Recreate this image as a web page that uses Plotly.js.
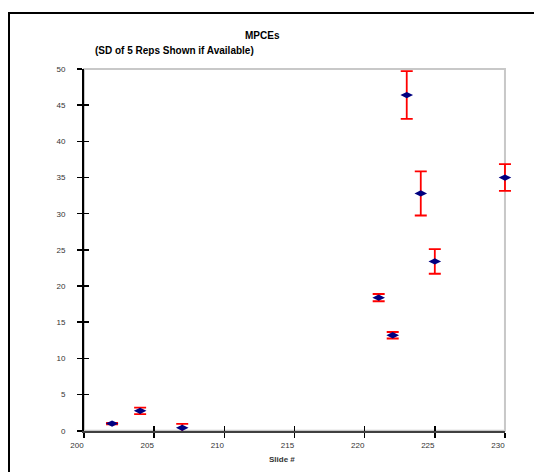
<!DOCTYPE html>
<html>
<head>
<meta charset="utf-8">
<script src="https://cdn.plot.ly/plotly-3.0.1.min.js"></script>
<style>
  html, body { margin: 0; padding: 0; background: #fff; }
  #wrap { position: relative; width: 534px; height: 472px; overflow: hidden; }
  #frame { position: absolute; left: 8px; top: 12px; width: 600px; height: 600px;
           border-left: 2px solid #000; border-top: 2px solid #000; box-sizing: border-box; }
  #chart { position: absolute; left: 0; top: 0; width: 534px; height: 472px; }
</style>
</head>
<body>
<div id="wrap">
  <div id="frame"></div>
  <div id="chart"></div>
</div>
<script>
// Data
const slideNumbers = [202, 204, 207, 221, 222, 223, 224, 225, 230];
const mpceValues   = [1.0, 2.75, 0.4, 18.4, 13.2, 46.4, 32.8, 23.4, 35.0];
const sdValues     = [0.1, 0.45, 0.55, 0.5, 0.45, 3.3, 3.05, 1.7, 1.85];
const xTickValues  = [200, 205, 210, 215, 220, 225, 230];
const yTickValues  = [0, 5, 10, 15, 20, 25, 30, 35, 40, 45, 50];
const titleText    = "MPCEs";
const subtitleText = "(SD of 5 Reps Shown if Available)";
const xTitleText   = "Slide #";

const FONT = "Liberation Sans, Arial, sans-serif";

// visible axis ranges and a slightly wider hidden data frame (so error caps at the edge are not cut)
const xRange = [200, 230];
const yRange = [0, 50];
const xDataRange = [200, 231];
const yDataRange = [-1, 50];
const xFrac = (xRange[1] - xRange[0]) / (xDataRange[1] - xDataRange[0]);
const yFrac = (yRange[1] - yRange[0]) / (yDataRange[1] - yDataRange[0]);

const trace = {
  type: "scatter",
  mode: "markers",
  x: slideNumbers,
  y: mpceValues,
  xaxis: "x", yaxis: "y",
  cliponaxis: false,
  marker: { symbol: "diamond-wide", size: 9, color: "#000080", line: { width: 0 } },
  error_y: { type: "data", array: sdValues, visible: true, color: "#ff0000", thickness: 1.8, width: 6 },
  showlegend: false,
  hoverinfo: "x+y"
};

const hiddenAxis = { visible: false, showgrid: false, zeroline: false, fixedrange: true };
const commonAxis = { showgrid: false, zeroline: false, fixedrange: true };

const layout = {
  width: 534,
  height: 472,
  margin: { l: 84, r: 15, t: 69, b: 34 },
  paper_bgcolor: "rgba(0,0,0,0)",
  plot_bgcolor: "rgba(0,0,0,0)",
  font: { family: FONT, size: 8, color: "#333" },
  xaxis: Object.assign({}, hiddenAxis, { domain: [0, 1], range: xDataRange, anchor: "y" }),
  yaxis: Object.assign({}, hiddenAxis, { domain: [0, 1], range: yDataRange, anchor: "x" }),
  xaxis2: Object.assign({}, commonAxis, {
    domain: [0, xFrac], anchor: "y2",
    range: xRange,
    tickvals: xTickValues,
    ticktext: xTickValues.map(String),
    ticks: "outside", ticklen: 5, tickwidth: 1.5, tickcolor: "#000",
    showline: true, linecolor: "#404040", linewidth: 2.5,
    ticklabelshift: -7,
    tickfont: { family: FONT, size: 8, color: "#333" }
  }),
  yaxis2: Object.assign({}, commonAxis, {
    domain: [1 - yFrac, 1], anchor: "x2",
    range: yRange,
    tickvals: yTickValues,
    ticktext: yTickValues.map(String),
    ticks: "outside", ticklen: 5, tickwidth: 1.5, tickcolor: "#000",
    showline: true, linecolor: "#000", linewidth: 2,
    ticklabelstandoff: 10,
    tickfont: { family: FONT, size: 8, color: "#333" }
  }),
  xaxis3: Object.assign({}, commonAxis, {
    overlaying: "x2", anchor: "y3", side: "bottom",
    range: xRange,
    tickvals: xTickValues,
    ticks: "inside", ticklen: 5, tickwidth: 1.5, tickcolor: "#000",
    showticklabels: false, showline: false
  }),
  yaxis3: Object.assign({}, commonAxis, {
    overlaying: "y2", anchor: "x3", side: "left",
    range: yRange,
    tickvals: yTickValues,
    ticks: "inside", ticklen: 5, tickwidth: 1.5, tickcolor: "#000",
    showticklabels: false, showline: false
  }),
  shapes: [
    { type: "rect", xref: "x2 domain", yref: "y2 domain", x0: 0, x1: 1, y0: 0, y1: 1,
      line: { color: "#c8c8c8", width: 2 }, layer: "below" }
  ],
  annotations: [
    { text: "<b>" + titleText + "</b>", xref: "x2 domain", yref: "y2 domain",
      x: (263 - 84) / 421, y: 1 + (69 - 35) / 362, xanchor: "center", yanchor: "middle",
      showarrow: false, font: { family: FONT, size: 10, color: "#000" } },
    { text: "<b>" + subtitleText + "</b>", xref: "x2 domain", yref: "y2 domain",
      x: (93 - 84) / 421, y: 1 + (69 - 50) / 362, xanchor: "left", yanchor: "middle",
      showarrow: false, font: { family: FONT, size: 10, color: "#000" } },
    { text: "<b>" + xTitleText + "</b>", xref: "x2 domain", yref: "y2 domain",
      x: (282 - 84) / 421, y: -(460 - 431) / 362, xanchor: "center", yanchor: "middle",
      showarrow: false, font: { family: FONT, size: 8, color: "#333" } }
  ]
};

const frameTrace = { type: "scatter", x: [], y: [], xaxis: "x2", yaxis: "y2", showlegend: false, hoverinfo: "skip" };
const innerTickTrace = { type: "scatter", x: [], y: [], xaxis: "x3", yaxis: "y3", showlegend: false, hoverinfo: "skip" };

Plotly.newPlot("chart", [frameTrace, innerTickTrace, trace], layout, { staticPlot: true, displayModeBar: false });
</script>
</body>
</html>
